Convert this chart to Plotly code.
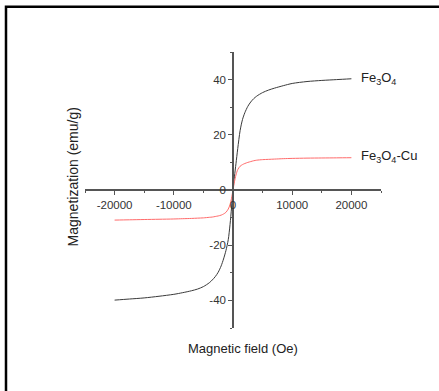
import plotly.graph_objects as go

field = [-20000, -17500, -15000, -12500, -10000, -8500, -7000, -6000, -5000, -4000, -3500, -3000,
         -2500, -2000, -1600, -1200, -800, -500, -250, 0,
         250, 500, 800, 1200, 1600, 2000, 2500, 3000, 3500, 4000, 5000, 6000, 7000, 8500,
         10000, 12500, 15000, 17500, 20000]
m_fe3o4 = [-39.9, -39.5, -39.1, -38.5, -37.8, -37.2, -36.5, -35.9, -35.0, -33.6, -32.6, -31.4,
           -29.8, -27.5, -25.0, -22.0, -18.0, -12.5, -6.5, 0,
           5.0, 9.5, 15.0, 21.5, 25.5, 28.0, 30.3, 31.9, 33.1, 34.0, 35.3, 36.2, 36.9, 37.8,
           38.6, 39.3, 39.7, 40.0, 40.3]
m_fe3o4_cu = [-10.9, -10.8, -10.7, -10.6, -10.5, -10.4, -10.3, -10.2, -10.1, -9.9, -9.8, -9.6,
              -9.4, -9.1, -8.7, -8.1, -6.9, -5.3, -3.0, 0,
              3.0, 5.4, 7.4, 8.6, 9.2, 9.6, 10.0, 10.3, 10.6, 10.8, 11.0, 11.1, 11.2, 11.35,
              11.45, 11.55, 11.6, 11.65, 11.7]
series_names = ["Fe<sub>3</sub>O<sub>4</sub>", "Fe<sub>3</sub>O<sub>4</sub>-Cu"]
x_tickvals = [-20000, -10000, 0, 10000, 20000]
x_ticktext = ["-20000", "-10000", "0", "10000", "20000"]
y_tickvals = [-40, -20, 0, 20, 40]
y_ticktext = ["-40", "-20", "0", "20", "40"]

font = "Liberation Sans, Arial, sans-serif"
fig = go.Figure()
fig.add_trace(go.Scatter(x=field, y=m_fe3o4, mode="lines",
                         line=dict(color="#3a3a3a", width=1, shape="spline", smoothing=0.8),
                         showlegend=False))
fig.add_trace(go.Scatter(x=field, y=m_fe3o4_cu, mode="lines",
                         line=dict(color="#ff6b6b", width=1, shape="spline", smoothing=0.8),
                         showlegend=False))

axis_common = dict(showline=True, linecolor="#555555", linewidth=1.5, ticks="outside", ticklen=4,
                   tickwidth=1.2, tickcolor="#555555", showgrid=False, zeroline=False,
                   tickfont=dict(family=font, size=11.5, color="#333333"), anchor="free", position=0.5)
fig.update_xaxes(range=[-25000, 25000], tickmode="array", tickvals=x_tickvals, ticktext=x_ticktext,
                 minor=dict(dtick=5000, tick0=0, ticks="outside", ticklen=2, tickcolor="#555555"),
                 **axis_common)
fig.update_yaxes(range=[-50, 50], tickmode="array", tickvals=y_tickvals, ticktext=y_ticktext,
                 minor=dict(dtick=10, tick0=0, ticks="outside", ticklen=2, tickcolor="#555555"),
                 **axis_common)

fig.add_annotation(x=21200, y=40.3, text=series_names[0], showarrow=False, xanchor="left",
                   font=dict(family=font, size=13, color="#222222"))
fig.add_annotation(x=21300, y=12, text=series_names[1], showarrow=False, xanchor="left",
                   font=dict(family=font, size=13, color="#222222"))
fig.add_annotation(xref="paper", yref="paper", x=-0.073, y=0.547, text="Magnetization (emu/g)",
                   textangle=-90, showarrow=False, font=dict(family=font, size=14, color="#222222"))
fig.add_annotation(xref="paper", yref="paper", x=0.534, y=-0.1076, text="Magnetic field (Oe)",
                   showarrow=False, font=dict(family=font, size=13, color="#222222"))

# outer frame: only the left and top edges fall inside the picture
fig.add_shape(type="rect", xref="paper", yref="paper", x0=-0.2669, x1=1.5, y0=-0.5, y1=1.164,
              line=dict(color="black", width=2.5), fillcolor="rgba(0,0,0,0)", layer="below")

fig.update_layout(width=439, height=391, margin=dict(l=85, r=58, t=52, b=63),
                  plot_bgcolor="white", paper_bgcolor="white")
fig.write_html("out.html", config={"displayModeBar": False})
